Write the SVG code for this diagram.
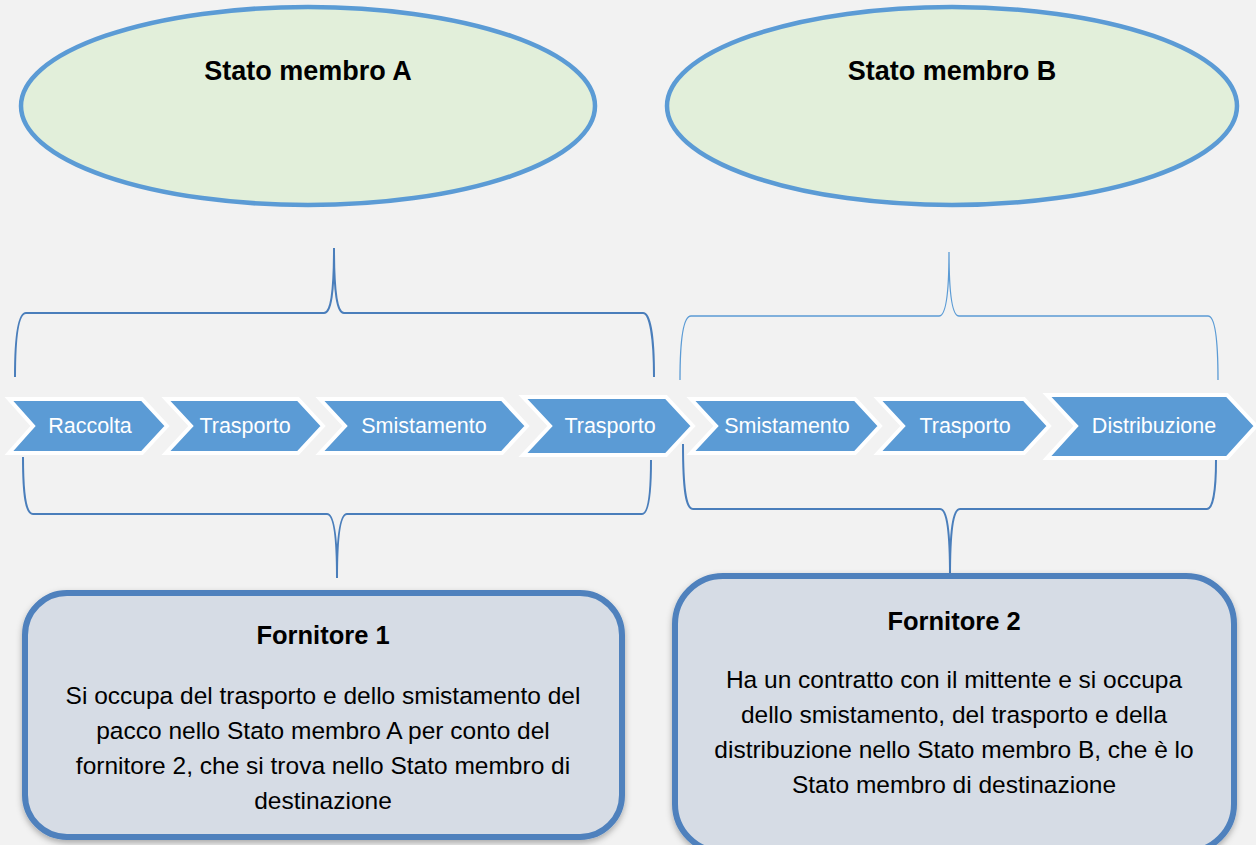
<svg xmlns="http://www.w3.org/2000/svg" width="1256" height="845" viewBox="0 0 1256 845">
<defs>
<style>
.bg{fill:#f2f2f2}
.state{fill:#e2efda;stroke:#5b9bd5;stroke-width:4.5}
.title{font-family:"Liberation Sans",Arial,sans-serif;font-weight:bold;font-size:27px;fill:#000;text-anchor:middle}
.chev{fill:#5b9bd5;stroke:#ffffff;stroke-width:4;stroke-linejoin:miter}
.ctext{font-family:"Liberation Sans",Arial,sans-serif;font-size:21.5px;fill:#ffffff;text-anchor:middle}
.brace{fill:none;stroke:#4a7ebb;stroke-width:2}
.brace-thin{fill:none;stroke:#5b9bd5;stroke-width:1.3}
.box{fill:#d6dce5;stroke:#4f81bd;stroke-width:6}
.btitle{font-family:"Liberation Sans",Arial,sans-serif;font-weight:bold;font-size:25.5px;fill:#000;text-anchor:middle}
.btext{font-family:"Liberation Sans",Arial,sans-serif;font-size:24.5px;fill:#000;text-anchor:middle}
</style>
<filter id="sh" x="-5%" y="-5%" width="110%" height="115%">
<feDropShadow dx="0" dy="3" stdDeviation="3" flood-color="#000" flood-opacity="0.3"/>
</filter>
</defs>
<rect class="bg" x="0" y="0" width="1256" height="845"/>

<g id="stato-a">
<ellipse class="state" cx="308" cy="106" rx="287" ry="99"/>
<text class="title" x="308" y="80">Stato membro A</text>
</g>
<g id="stato-b">
<ellipse class="state" cx="952" cy="106" rx="285" ry="99"/>
<text class="title" x="952" y="80">Stato membro B</text>
</g>

<g id="connectors">
<path class="brace" d="M15,377 C15,338 18,313 26,313 L324,313 C331,313 334,292 334,248 C334,292 337,313 344,313 L643,313 C650,313 654,338 654,377"/>
<path class="brace-thin" d="M680,380 C680,341 683,316 691,316 L939,316 C946,316 949,295 949,252 C949,295 952,316 959,316 L1208,316 C1215,316 1218,341 1218,380"/>
<path class="brace" d="M23,457 C23,496 26,514 33,514 L327,514 C334,514 337,536 337,578 C337,536 340,514 347,514 L642,514 C648,514 651,496 651,460"/>
<path class="brace" stroke-width="1.6" d="M683,444 C683,490 686,509 693,509 L940,509 C947,509 950,531 950,576 C950,531 953,509 960,509 L1207,509 C1213,509 1216,490 1216,460"/>
</g>

<g id="chevron-raccolta">
<polygon class="chev" points="9,399 142,399 167,426 142,453 9,453 33,426"/>
<text class="ctext" x="90" y="433">Raccolta</text>
</g>
<g id="chevron-trasporto-1">
<polygon class="chev" points="166,399 298,399 323,426 298,453 166,453 191,426"/>
<text class="ctext" x="245" y="433">Trasporto</text>
</g>
<g id="chevron-smistamento-1">
<polygon class="chev" points="320,399 502,399 527,426 502,453 320,453 345,426"/>
<text class="ctext" x="424" y="433">Smistamento</text>
</g>
<g id="chevron-trasporto-2">
<polygon class="chev" points="523,397 666,397 693,426 666,455 523,455 550,426"/>
<text class="ctext" x="610" y="433">Trasporto</text>
</g>
<g id="chevron-smistamento-2">
<polygon class="chev" points="691,399 855,399 880,426 855,453 691,453 716,426"/>
<text class="ctext" x="787" y="433">Smistamento</text>
</g>
<g id="chevron-trasporto-3">
<polygon class="chev" points="878,399 1024,399 1049,426 1024,453 878,453 903,426"/>
<text class="ctext" x="965" y="433">Trasporto</text>
</g>
<g id="chevron-distribuzione">
<polygon class="chev" points="1047,395 1227,395 1256,426 1227,458 1047,458 1076,426"/>
<text class="ctext" x="1154" y="433">Distribuzione</text>
</g>

<g id="fornitore-1">
<rect class="box" filter="url(#sh)" x="25" y="593" width="597" height="244" rx="42" ry="42"/>
<text class="btitle" x="323" y="644">Fornitore 1</text>
<text class="btext" x="323" y="704">Si occupa del trasporto e dello smistamento del</text>
<text class="btext" x="323" y="739">pacco nello Stato membro A per conto del</text>
<text class="btext" x="323" y="774">fornitore 2, che si trova nello Stato membro di</text>
<text class="btext" x="323" y="809">destinazione</text>
</g>
<g id="fornitore-2">
<rect class="box" filter="url(#sh)" x="675" y="576" width="559" height="276" rx="48" ry="48"/>
<text class="btitle" x="954" y="630">Fornitore 2</text>
<text class="btext" x="954" y="688">Ha un contratto con il mittente e si occupa</text>
<text class="btext" x="954" y="723">dello smistamento, del trasporto e della</text>
<text class="btext" x="954" y="758">distribuzione nello Stato membro B, che è lo</text>
<text class="btext" x="954" y="793">Stato membro di destinazione</text>
</g>
</svg>
